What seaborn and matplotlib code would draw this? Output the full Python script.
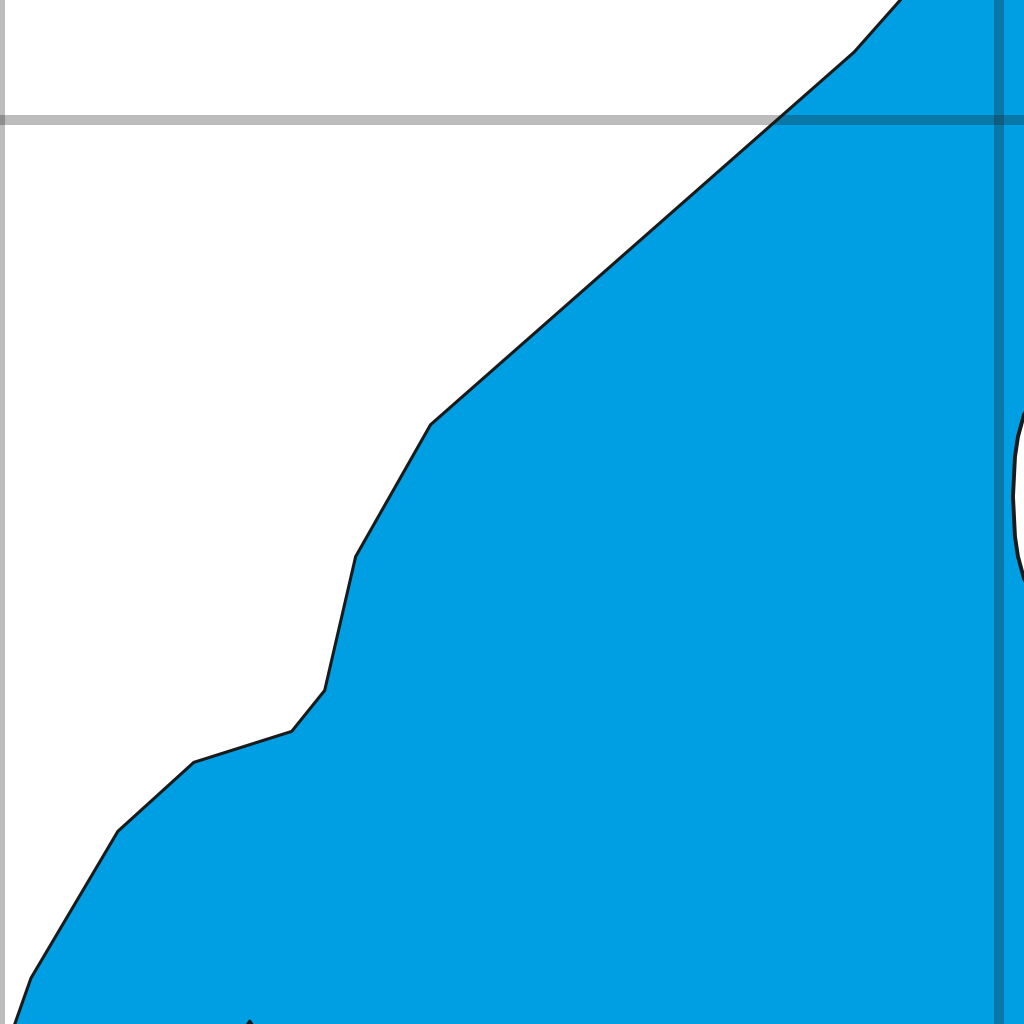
import numpy as np
import pandas as pd
import matplotlib
matplotlib.use("Agg")
import matplotlib.pyplot as plt
import seaborn as sns

# Values (grid units: one grid step = 1.0)
edge_x = [0.941, 0.855, 0.431, 0.356, 0.325, 0.292, 0.194, 0.118, 0.031, -0.005]
edge_y = [1.165, 1.068, 0.695, 0.563, 0.429, 0.388, 0.357, 0.288, 0.141, 0.039]

# white gap touching the right border
gap_x = [1.034, 1.025, 1.019, 1.016, 1.015, 1.014, 1.015, 1.016, 1.019, 1.025, 1.034]
gap_y = [0.723, 0.705, 0.683, 0.663, 0.643, 0.623, 0.603, 0.583, 0.563, 0.541, 0.523]

# tip of another line poking in at the bottom
tip_x = [0.235, 0.250, 0.265]
tip_y = [0.075, 0.098, 0.075]

grid_x = [0.0, 1.0]
grid_y = [1.0]

fill_color = "#009FE3"
line_color = "#1a1a1a"

sns.set_theme(style="white")

fig = plt.figure(figsize=(10.24, 10.24), dpi=100)
ax = fig.add_axes([0, 0, 1, 1])

# filled area: left edge, then round the right side through the gap
right_x = 1.2
poly_x = edge_x + [right_x] + gap_x[::-1] + [right_x]
poly_y = edge_y + [edge_y[-1]] + gap_y[::-1] + [edge_y[0]]
ax.fill(poly_x, poly_y, color=fill_color, lw=0, zorder=1)

edge_df = pd.DataFrame({"x": edge_x, "y": edge_y})
gap_df = pd.DataFrame({"x": gap_x, "y": gap_y})
tip_df = pd.DataFrame({"x": tip_x, "y": tip_y})
for df, w in ((edge_df, 2.2), (gap_df, 2.8), (tip_df, 2.2)):
    sns.lineplot(data=df, x="x", y="y", sort=False, estimator=None,
                 color=line_color, lw=w, ax=ax, zorder=3)

ax.set_xlim(0, 1024 / 999)
ax.set_ylim(95 / 999, 1119 / 999)
ax.set_xticks(grid_x)
ax.set_yticks(grid_y)
ax.set_axisbelow(False)
ax.grid(True, color="#212121", alpha=0.3, lw=7.2)
ax.tick_params(length=0, labelbottom=False, labelleft=False)
ax.set_xlabel("")
ax.set_ylabel("")
for s in ax.spines.values():
    s.set_visible(False)

fig.savefig("out.png", dpi=100)
